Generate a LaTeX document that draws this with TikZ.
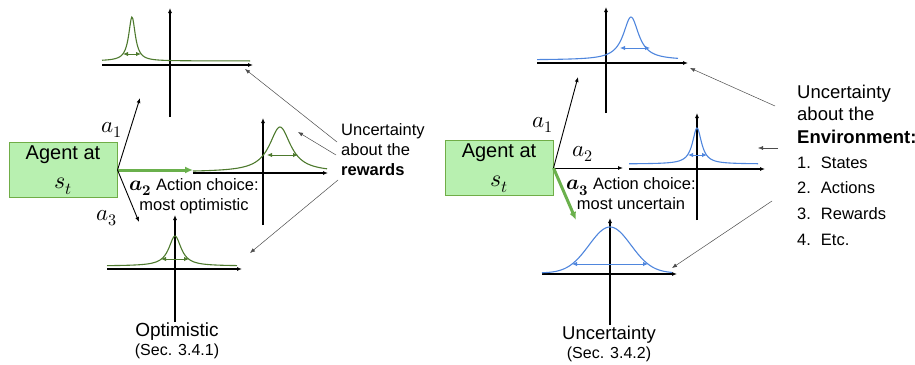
\documentclass[tikz,border=0pt]{standalone}
\usepackage{amsmath}
\usepackage{unicode-math}
\setmainfont{Liberation Sans}
\setmathfont{Latin Modern Math}
\usepackage{tikz}
\usetikzlibrary{calc, arrows.meta, positioning}

\definecolor{AgentFill}{RGB}{184,240,176}
\definecolor{AgentLine}{RGB}{112,173,71}
\definecolor{ChoiceGreen}{RGB}{106,176,76}
\definecolor{CurveGreen}{RGB}{78,122,46}
\definecolor{CurveBlue}{RGB}{79,134,221}

\begin{document}
\begin{tikzpicture}[
  x=1pt, y=-1pt,
  agent/.style={
    rectangle, draw=AgentLine, fill=AgentFill, line width=1pt,
    minimum width=108pt, minimum height=55pt, inner sep=0pt,
    align=center, font=\fontsize{20}{29}\selectfont
  },
  note/.style={inner sep=0pt, align=left, font=\fontsize{16.5}{20}\selectfont},
  choice/.style={inner sep=0pt, align=center, font=\fontsize{16.5}{20}\selectfont},
  act/.style={inner sep=0pt, font=\fontsize{23}{24}\selectfont},
  axis/.style={-{Latex[length=5pt, width=4pt]}, line width=1.3pt},
  move/.style={-{Latex[length=5pt, width=4pt]}, line width=0.9pt},
  pick/.style={-{Latex[length=8pt, width=7pt]}, line width=3pt, draw=ChoiceGreen},
  hint/.style={-{Latex[length=5pt, width=4pt]}, line width=0.5pt, draw=black!70},
  spread/.style={{Latex[length=5pt, width=4.5pt]}-{Latex[length=5pt, width=4.5pt]}, line width=0.9pt}
]
\useasboundingbox (0,0) rectangle (915,364);

% Nodes
\node[agent] (Agent_Opt) at (63,170) {Agent at\\ {\fontsize{24}{29}\selectfont$s_t$}};
\node[agent] (Agent_Unc) at (499,168) {Agent at\\ {\fontsize{24}{29}\selectfont$s_t$}};

\node[act] (a1_Opt) at (112,130) {$a_1$};
\node[act] (a3_Opt) at (107,218) {$a_3$};
\node[act] (a1_Unc) at (543,125) {$a_1$};
\node[act] (a2_Unc) at (583,154) {$a_2$};

\node[choice] (Choice_Opt) at (194,196)
  {{\fontsize{21}{20}\selectfont$\symbfit{a}_{\symbf{2}}$} Action choice:\\most optimistic};
\node[choice] (Choice_Unc) at (631,194)
  {{\fontsize{21}{20}\selectfont$\symbfit{a}_{\symbf{3}}$} Action choice:\\most uncertain};

\node[note, anchor=west] (Rewards_Note) at (341,150) {Uncertainty\\about the\\\textbf{rewards}};
\node[note, anchor=west, font=\fontsize{18.5}{22.5}\selectfont] (Env_Note) at (797,114)
  {Uncertainty\\about the\\\textbf{Environment:}};
\node[inner sep=0pt, anchor=north west, font=\fontsize{16.5}{25.7}\selectfont] (Env_List) at (797,150) {
  \begin{tabular}{@{}l@{\hspace{10pt}}l@{}}
    1. & States\\
    2. & Actions\\
    3. & Rewards\\
    4. & Etc.
  \end{tabular}
};

\node[inner sep=0pt, font=\fontsize{19}{20}\selectfont] (Opt_Title) at (177,332) {Optimistic};
\node[inner sep=0pt, below=3pt of Opt_Title, font=\fontsize{16}{18}\selectfont] (Opt_Sec) {(Sec. 3.4.1)};
\node[inner sep=0pt, font=\fontsize{18.5}{20}\selectfont] (Unc_Title) at (609,335) {Uncertainty};
\node[inner sep=0pt, below=3pt of Unc_Title, font=\fontsize{16}{18}\selectfont] (Unc_Sec) {(Sec. 3.4.2)};

% Axes
\draw[axis] (102,65) -- (253,65);   \draw[axis] (170,117) -- (170,8);
\draw[axis] (193,173) -- (328,173); \draw[axis] (263,225) -- (263,118);
\draw[axis] (107,269) -- (242,269); \draw[axis] (175,322) -- (175,215);
\draw[axis] (537,63) -- (688,63);   \draw[axis] (606,113) -- (606,7);
\draw[axis] (629,169) -- (765,169); \draw[axis] (697,220) -- (697,113);
\draw[axis] (542,274) -- (677,274); \draw[axis] (610,325) -- (610,218);

% Curves
\begin{scope}[draw=CurveGreen, line width=1.1pt]
  \draw plot[domain=102:250, samples=160, smooth] (\x, {61-44/(1+((\x-132)/4)^2)});
  \draw plot[domain=193:327, samples=140, smooth] (\x, {172-45/(1+((\x-280)/13)^2)});
  \draw plot[domain=107:237, samples=140, smooth] (\x, {266-30/(1+((\x-175)/7.5)^2)});
  \draw[spread] (123,54) -- (141,54);
  \draw[spread] (267,155) -- (298,155);
  \draw[spread] (161,259) -- (189,259);
\end{scope}
\begin{scope}[draw=CurveBlue, line width=1.1pt]
  \draw plot[domain=537:678, samples=150, smooth] (\x, {60-43/(1+((\x-631)/9.4)^2)});
  \draw plot[domain=629:758, samples=140, smooth] (\x, {164-36/(1+((\x-697)/5.5)^2)});
  \draw plot[domain=542:672, samples=140, smooth] (\x, {273-46*exp(-((\x-610)/21)^2/2)});
  \draw[spread] (620,48) -- (650,48);
  \draw[spread] (688,155) -- (707,155);
  \draw[spread] (572,264) -- (648,264);
\end{scope}

% Edges
\coordinate (a1_Opt_End) at (140,98);
\coordinate (a2_Opt_End) at (193,170);
\coordinate (a3_Opt_End) at (139,222);
\draw[move] (Agent_Opt.east) -- (a1_Opt_End);
\draw[pick] (Agent_Opt.east) -- (a2_Opt_End);
\draw[move] (Agent_Opt.east) -- (a3_Opt_End);

\coordinate (a1_Unc_End) at (578,77);
\coordinate (a2_Unc_End) at (623,168);
\coordinate (a3_Unc_End) at (576,220);
\draw[move] (Agent_Unc.east) -- (a1_Unc_End);
\draw[move] (Agent_Unc.east) -- (a2_Unc_End);
\draw[pick] (Agent_Unc.east) -- (a3_Unc_End);

\coordinate (Rew_Top) at (245,69);
\coordinate (Rew_Mid) at (298,132);
\coordinate (Rew_Bot) at (250,253);
\draw[hint] ($(Rewards_Note.west)+(-4,-8)$) -- (Rew_Top);
\draw[hint] ($(Rewards_Note.west)+(-5,5)$) -- (Rew_Mid);
\draw[hint] ($(Rewards_Note.west)+(-3,30)$) -- (Rew_Bot);

\coordinate (Env_Top) at (690,68);
\coordinate (Env_Mid) at (758,148);
\coordinate (Env_Bot) at (672,268);
\draw[hint] ($(Env_Note.west)+(-22,-8)$) -- (Env_Top);
\draw[hint] ($(Env_Note.west)+(-19,34)$) -- (Env_Mid);
\draw[hint] ($(Env_Note.west)+(-25,87)$) -- (Env_Bot);

\end{tikzpicture}
\end{document}
